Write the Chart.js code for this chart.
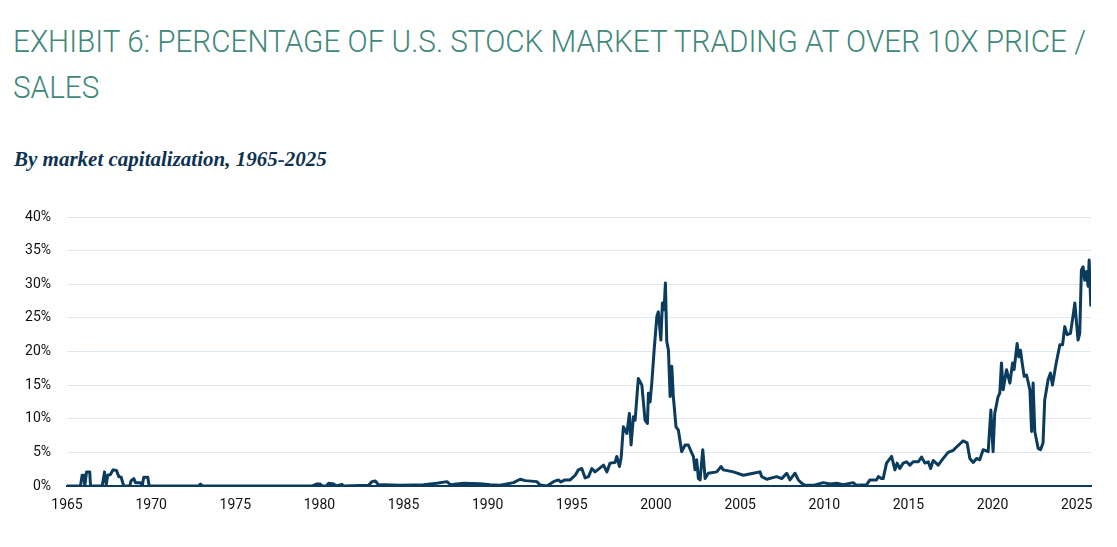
<!DOCTYPE html>
<html>
<head>
<meta charset="utf-8">
<script src="https://cdn.jsdelivr.net/npm/chart.js@4"></script>
<style>
    html, body { margin: 0; padding: 0; background: #ffffff; }
    body { width: 1117px; height: 547px; position: relative; overflow: hidden; }
    #title {
        position: absolute; left: 13px; top: 19px;
        font-family: Roboto, sans-serif; font-weight: 300; font-size: 31px;
        line-height: 45.7px; color: #3f887a; white-space: nowrap;
        transform-origin: 0 0;
    }
    #subtitle {
        position: absolute; left: 14px; top: 147px;
        font-family: "Liberation Serif", serif; font-weight: bold; font-style: italic;
        font-size: 21px; line-height: 24px; color: #0e3350; white-space: nowrap;
    }
    #chartBox { position: absolute; left: 0; top: 190px; width: 1117px; height: 340px; }
</style>
</head>
<body>
<div id="title"><span id="titleLine1">EXHIBIT 6: PERCENTAGE OF U.S. STOCK MARKET TRADING AT OVER 10X PRICE /</span><br>SALES</div>
<div id="subtitle">By market capitalization, 1965-2025</div>
<div id="chartBox"><canvas id="tradingChart"></canvas></div>

<script>
'use strict';

// Dates (decimal years) and % of market cap trading above 10x price/sales
const years = [
    1965.00, 1965.80, 1965.90, 1966.00, 1966.06, 1966.16, 1966.35, 1966.40, 1967.09, 1967.23,
    1967.33, 1967.42, 1967.58, 1967.74, 1967.94, 1968.08, 1968.22, 1968.37, 1968.73, 1968.81,
    1968.97, 1969.07, 1969.36, 1969.47, 1969.56, 1969.80, 1969.88, 1972.81, 1972.93, 1973.05,
    1979.58, 1979.86, 1980.05, 1980.17, 1980.41, 1980.55, 1980.84, 1981.00, 1981.34, 1981.42,
    1982.92, 1983.12, 1983.32, 1983.52, 1983.81, 1984.80, 1986.19, 1986.98, 1987.58, 1987.77,
    1988.56, 1989.55, 1990.15, 1990.74, 1991.53, 1991.93, 1992.23, 1992.92, 1993.12, 1993.52,
    1993.91, 1994.20, 1994.35, 1994.60, 1994.90, 1995.20, 1995.39, 1995.59, 1995.79, 1995.99,
    1996.19, 1996.38, 1996.88, 1997.08, 1997.27, 1997.57, 1997.67, 1997.83, 1997.93, 1998.06,
    1998.27, 1998.42, 1998.52, 1998.66, 1998.76, 1998.95, 1999.16, 1999.35, 1999.49, 1999.55,
    1999.65, 1999.75, 1999.89, 2000.05, 2000.14, 2000.29, 2000.38, 2000.48, 2000.56, 2000.64,
    2000.74, 2000.84, 2000.94, 2001.03, 2001.19, 2001.33, 2001.53, 2001.73, 2001.92, 2002.13,
    2002.22, 2002.32, 2002.42, 2002.52, 2002.62, 2002.78, 2002.92, 2003.11, 2003.61, 2003.87,
    2004.00, 2004.60, 2005.19, 2005.78, 2006.18, 2006.28, 2006.58, 2007.17, 2007.47, 2007.77,
    2007.96, 2008.26, 2008.46, 2008.66, 2008.85, 2009.35, 2009.94, 2010.34, 2010.74, 2011.13,
    2011.72, 2011.92, 2012.52, 2012.71, 2013.11, 2013.21, 2013.41, 2013.50, 2013.70, 2014.00,
    2014.20, 2014.33, 2014.49, 2014.69, 2014.89, 2015.09, 2015.28, 2015.58, 2015.78, 2015.98,
    2016.18, 2016.32, 2016.47, 2016.77, 2017.07, 2017.36, 2017.66, 2017.86, 2018.25, 2018.49,
    2018.65, 2018.85, 2019.05, 2019.24, 2019.44, 2019.74, 2019.90, 2020.03, 2020.13, 2020.33,
    2020.43, 2020.53, 2020.63, 2020.83, 2021.03, 2021.19, 2021.28, 2021.46, 2021.56, 2021.66,
    2021.76, 2021.88, 2022.02, 2022.22, 2022.32, 2022.41, 2022.51, 2022.71, 2022.85, 2023.00,
    2023.10, 2023.30, 2023.44, 2023.56, 2023.76, 2024.00, 2024.16, 2024.29, 2024.43, 2024.63,
    2024.75, 2024.89, 2025.08, 2025.18, 2025.28, 2025.38, 2025.48, 2025.58, 2025.68, 2025.74,
    2025.84
];

const pct = [
    0.0, 0.0, 1.6, 1.6, 0.0, 2.1, 2.1, 0.0, 0.0, 2.1,
    0.2, 1.6, 1.7, 2.4, 2.3, 1.4, 1.3, 0.0, 0.0, 0.8,
    1.1, 0.5, 0.5, 0.0, 1.3, 1.3, 0.0, 0.0, 0.3, 0.0,
    0.0, 0.3, 0.3, 0.0, 0.0, 0.4, 0.3, 0.0, 0.25, 0.0,
    0.1, 0.65, 0.75, 0.15, 0.2, 0.1, 0.2, 0.4, 0.65, 0.2,
    0.4, 0.35, 0.2, 0.1, 0.5, 1.0, 0.8, 0.65, 0.15, 0.0,
    0.65, 0.9, 0.6, 0.9, 0.9, 1.6, 2.4, 2.6, 1.2, 1.4,
    2.6, 2.1, 3.1, 2.1, 3.4, 3.5, 4.4, 2.9, 4.2, 8.8,
    7.8, 10.8, 6.1, 10.3, 9.8, 16.0, 15.0, 9.8, 9.3, 13.8,
    12.5, 15.3, 20.2, 25.2, 25.9, 21.7, 27.2, 26.2, 30.2, 21.5,
    20.2, 13.3, 17.8, 13.3, 8.8, 8.3, 5.1, 6.1, 6.1, 4.9,
    4.4, 2.4, 3.9, 1.1, 0.9, 5.4, 1.1, 1.9, 2.1, 2.9,
    2.4, 2.1, 1.6, 1.9, 2.1, 1.4, 1.0, 1.4, 1.1, 1.9,
    0.9, 1.9, 0.9, 0.4, 0.1, 0.1, 0.5, 0.3, 0.4, 0.2,
    0.5, 0.1, 0.2, 0.9, 0.9, 1.4, 1.1, 1.1, 3.4, 4.4,
    2.4, 3.4, 2.6, 3.4, 3.6, 3.1, 3.6, 3.6, 4.3, 3.4,
    3.6, 2.6, 3.8, 3.1, 4.1, 5.0, 5.3, 5.8, 6.7, 6.4,
    4.1, 3.5, 4.1, 3.9, 5.4, 5.1, 11.3, 5.1, 10.8, 13.3,
    13.8, 18.3, 14.3, 17.3, 15.3, 18.3, 17.3, 21.2, 19.2, 20.2,
    18.3, 16.3, 16.5, 14.3, 8.1, 15.3, 8.1, 5.6, 5.4, 6.4,
    12.8, 15.8, 16.8, 15.0, 18.0, 21.0, 21.0, 23.7, 22.5, 22.7,
    24.7, 27.2, 21.7, 22.7, 32.1, 32.6, 30.6, 31.9, 29.7, 33.6,
    26.7
];

// Axis settings
const xMin = 1965;
const xMax = 2025.85;
const yMax = 40;
const yStep = 5;
const xStep = 5;

// Squeeze the title so the first line spans the same width as the original
function fitTitle() {
    const title = document.getElementById('title');
    const line1 = document.getElementById('titleLine1');
    const scale = 1073 / line1.getBoundingClientRect().width;
    title.style.transform = `scaleX(${scale})`;
}

function initChart() {
    const ctx = document.getElementById('tradingChart');
    const points = years.map((yr, i) => ({ x: yr, y: pct[i] }));

    new Chart(ctx, {
        type: 'line',
        data: {
            datasets: [{
                data: points,
                borderColor: '#0b3c5d',
                borderWidth: 3,
                borderJoinStyle: 'round',
                pointRadius: 0,
                tension: 0,
                fill: false
            }]
        },
        options: {
            responsive: true,
            maintainAspectRatio: false,
            animation: false,
            layout: {
                padding: { top: 27, bottom: 14, left: 0, right: 26 }
            },
            plugins: {
                legend: { display: false },
                tooltip: { enabled: false }
            },
            scales: {
                x: {
                    type: 'linear',
                    min: xMin,
                    max: xMax,
                    afterFit: function(axis) { axis.height = 30; },
                    grid: { display: false, drawTicks: false },
                    border: { display: true, color: '#0b3c5d', width: 2 },
                    ticks: {
                        stepSize: xStep,
                        includeBounds: false,
                        padding: 11,
                        color: '#111111',
                        font: { family: 'Roboto', size: 14 },
                        maxRotation: 0,
                        autoSkip: false,
                        callback: function(value) {
                            return value % xStep === 0 ? String(value) : '';
                        }
                    }
                },
                y: {
                    min: 0,
                    max: yMax,
                    afterFit: function(axis) { axis.width = 67; },
                    grid: { color: '#dde8f0', lineWidth: 1, drawTicks: false },
                    border: { display: false },
                    ticks: {
                        stepSize: yStep,
                        padding: 16,
                        color: '#111111',
                        font: { family: 'Roboto', size: 14 },
                        callback: function(value) {
                            return value + '%';
                        }
                    }
                }
            }
        }
    });
}

fitTitle();
initChart();
</script>
</body>
</html>
